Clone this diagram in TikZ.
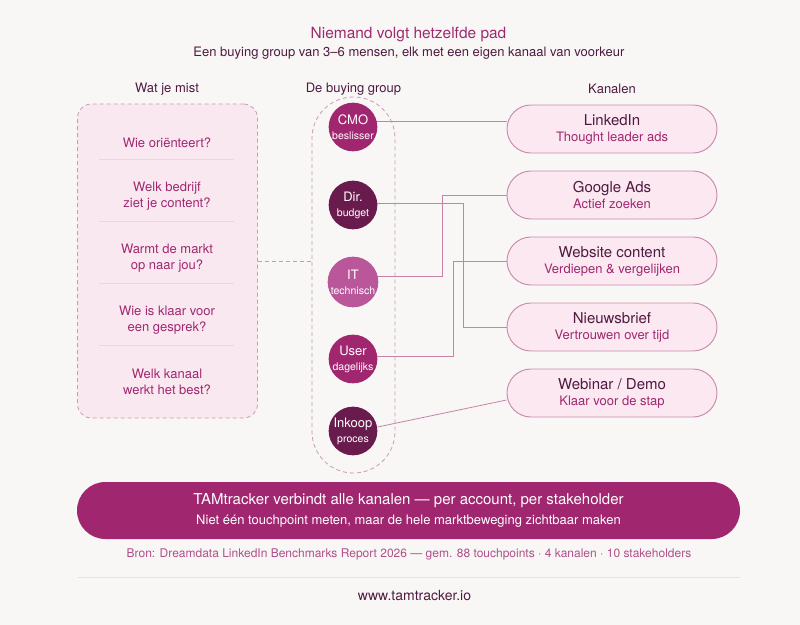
\documentclass[tikz,border=0pt]{standalone}
\usepackage{fontspec}
\setmainfont{TeX Gyre Heros}
\usetikzlibrary{backgrounds}

\definecolor{pagebg}{HTML}{F8F7F5}
\definecolor{titlecol}{HTML}{9E2A6E}
\definecolor{deep}{HTML}{4E1A40}
\definecolor{plum}{HTML}{A0276F}
\definecolor{darkplum}{HTML}{6A1B4D}
\definecolor{lightplum}{HTML}{B9579A}
\definecolor{missfill}{HTML}{FAE8F1}
\definecolor{dashcol}{HTML}{C99AB4}
\definecolor{chanline}{HTML}{C98AAC}
\definecolor{chanfill}{HTML}{FBE8F1}
\definecolor{linkcol}{HTML}{C683A8}
\definecolor{sepcol}{HTML}{EAD5E0}
\definecolor{srccol}{HTML}{B04F8A}
\definecolor{rulecol}{HTML}{E6E2E0}

\newcommand{\fsTitle}{\fontsize{11.6pt}{14pt}\selectfont}
\newcommand{\fsText}{\fontsize{9.75pt}{12pt}\selectfont}
\newcommand{\fsBig}{\fontsize{11.25pt}{13pt}\selectfont}
\newcommand{\fsRole}{\fontsize{7.9pt}{9pt}\selectfont}
\newcommand{\chan}[2]{\textcolor{deep}{\fsBig #1}\\\textcolor{plum}{\fsText #2}}

\begin{document}
\begin{tikzpicture}[x=0.75pt, y=-0.75pt,
  head/.style={text=deep, font=\fsText},
  question/.style={text=plum, align=center, font=\fsText},
  missbox/.style={draw=dashcol, fill=missfill, dashed, dash pattern=on 3pt off 2.25pt,
    rounded corners=10.5pt, minimum width=135pt, minimum height=235.5pt, line width=0.6pt},
  groupbox/.style={draw=dashcol, dashed, dash pattern=on 3pt off 2.25pt,
    rounded corners=31pt, minimum width=62.25pt, minimum height=282pt, line width=0.6pt},
  member/.style={circle, minimum size=36.5pt, inner sep=0pt, text=white, align=center,
    font={\fontsize{9.75pt}{11.25pt}\selectfont}},
  channel/.style={draw=chanline, fill=chanfill, rounded corners=18pt, minimum width=157.5pt,
    minimum height=36pt, line width=0.7pt, align=center, font={\fontsize{9.75pt}{12pt}\selectfont}},
  banner/.style={fill=plum, rounded corners=21.3pt, minimum width=497.25pt, minimum height=42.75pt,
    text=white, align=center, font={\fontsize{9.75pt}{14.6pt}\selectfont}},
  link/.style={draw=linkcol, line width=0.6pt},
  dashlink/.style={draw=dashcol, dashed, dash pattern=on 3pt off 2.25pt, line width=0.6pt},
  sep/.style={draw=sepcol, line width=0.6pt}
]
  \useasboundingbox (0,0) rectangle (800,625);

  % Titel
  \node[font=\fsTitle, text=titlecol] (title) at (408.5,35) {Niemand volgt hetzelfde pad};
  \node[font=\fsText, text=deep] (subtitle) at (409,53) {Een buying group van 3–6 mensen, elk met een eigen kanaal van voorkeur};

  % Kolomkoppen
  \node[head] (hmiss) at (167,89) {Wat je mist};
  \node[head] (hgroup) at (353.5,89) {De buying group};
  \node[head] (hchan) at (612,89) {Kanalen};

  % Wat je mist
  \node[missbox] (miss) at (167.5,261) {};
  \foreach \y in {159,221,283,345}
    \draw[sep] (99,\y) -- (234,\y);
  \node[question] (q1) at (167,143) {Wie oriënteert?};
  \node[question] (q2) at (167,196) {Welk bedrijf\\ziet je content?};
  \node[question] (q3) at (167,258) {Warmt de markt\\op naar jou?};
  \node[question] (q4) at (167,320) {Wie is klaar voor\\een gesprek?};
  \node[question] (q5) at (167,382) {Welk kanaal\\werkt het best?};

  % De buying group
  \node[groupbox] (group) at (353.5,285) {};
  \node[member, fill=plum] (cmo) at (353,127) {CMO\\{\fsRole beslisser}};
  \node[member, fill=darkplum] (dir) at (353,205) {Dir.\\{\fsRole budget}};
  \node[member, fill=lightplum] (it) at (353,282) {IT\\{\fsRole technisch}};
  \node[member, fill=plum] (user) at (353,359) {User\\{\fsRole dagelijks}};
  \node[member, fill=darkplum] (inkoop) at (353,431) {Inkoop\\{\fsRole proces}};

  % Kanalen
  \node[channel] (linkedin) at (612,129) {\chan{LinkedIn}{Thought leader ads}};
  \node[channel] (google) at (612,195) {\chan{Google Ads}{Actief zoeken}};
  \node[channel] (website) at (612,261) {\chan{Website content}{Verdiepen \& vergelijken}};
  \node[channel] (nieuws) at (612,327) {\chan{Nieuwsbrief}{Vertrouwen over tijd}};
  \node[channel] (webinar) at (612,393) {\chan{Webinar / Demo}{Klaar voor de stap}};

  % TAMtracker balk
  \node[banner] (banner) at (408.5,510.5) {{\fsBig TAMtracker verbindt alle kanalen — per account, per stakeholder}\\Niet één touchpoint meten, maar de hele marktbeweging zichtbaar maken};
  \node[font={\fontsize{9pt}{11pt}\selectfont}, text=srccol] (source) at (409,554) {Bron: Dreamdata LinkedIn Benchmarks Report 2026 — gem. 88 touchpoints · 4 kanalen · 10 stakeholders};
  \draw[draw=rulecol, line width=0.75pt] (78,577) -- (740,577);
  \node[font={\fontsize{10.5pt}{12pt}\selectfont}, text=deep] (url) at (414.5,595) {www.tamtracker.io};

  % Verbindingen
  \begin{scope}[on background layer]
    \fill[pagebg] (0,0) rectangle (800,625);
    \draw[dashlink] (miss.east) -- (miss.east -| group.west);
    \draw[link] ([yshift=4.5pt]cmo.center) -- ([yshift=4.5pt]cmo.center -| linkedin.west);
    \draw[link] ([yshift=1.5pt]dir.center) -| (463,0 |- nieuws.west) -- (nieuws.west);
    \draw[link] ([yshift=4.5pt]it.center) -| (442,0 |- google.west) -- (google.west);
    \draw[link] ([yshift=2.25pt]user.center) -| (453,0 |- website.west) -- (website.west);
    \draw[link] ([yshift=3pt]inkoop.east) -- ([yshift=-5.25pt]webinar.west);
  \end{scope}
\end{tikzpicture}
\end{document}
